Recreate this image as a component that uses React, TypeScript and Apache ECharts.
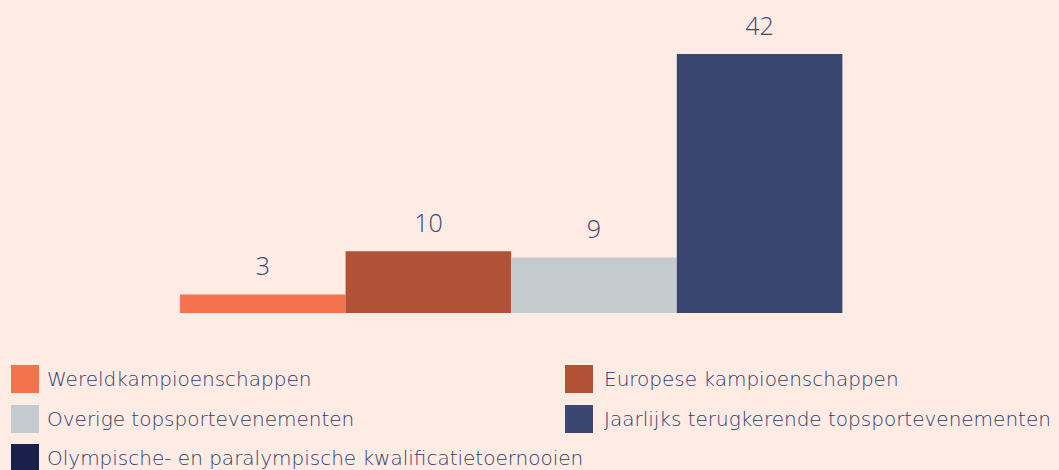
import React, { useEffect, useRef } from "react";
import * as echarts from "echarts";

const categories = ["Evenementen"];
const seriesNames = [
  "Wereldkampioenschappen",
  "Europese kampioenschappen",
  "Overige topsportevenementen",
  "Jaarlijks terugkerende topsportevenementen",
  "Olympische- en paralympische kwalificatietoernooien",
];
const seriesValues: (number | null)[] = [3, 10, 9, 42, null];
const seriesColors = ["#f3734f", "#b05236", "#c4cbce", "#39466e", "#1a1f4b"];
const legendLeftTop = [seriesNames[0], seriesNames[2]];
const legendLeftBottom = [seriesNames[4]];
const legendRight = [seriesNames[1], seriesNames[3]];

const FONT = "Open Sans";
const LEGEND_FONT = "DejaVu Sans";
const TEXT = "#3b4872";
const LEGEND_TEXT = "#2f3c68";

export default function App() {
  const ref = useRef<HTMLDivElement>(null);
  useEffect(() => {
    if (!ref.current) return;
    const chart = echarts.init(ref.current, undefined, { renderer: "svg" });
    const legendBase = {
      orient: "vertical" as const,
      padding: 0,
      itemWidth: 28,
      itemHeight: 28,
      itemGap: 12,
      icon: "rect",
      selectedMode: false,
      textStyle: { fontFamily: LEGEND_FONT, fontSize: 20, fontWeight: 300, color: LEGEND_TEXT, padding: [0, 0, 0, 3] },
    };
    chart.setOption({
      animation: false,
      backgroundColor: "#feebe4",
      grid: { left: 180, right: 51, top: 54, bottom: 157 },
      legend: [
        { ...legendBase, left: 11, top: 365, data: legendLeftTop },
        { ...legendBase, left: 11, top: 444, data: legendLeftBottom },
        {
          ...legendBase,
          left: 565,
          top: 365,
          data: legendRight,
          textStyle: { ...legendBase.textStyle, padding: [0, 0, 0, 6] },
        },
      ],
      xAxis: {
        type: "category",
        data: categories,
        show: false,
      },
      yAxis: { type: "value", min: 0, max: 42, show: false },
      series: seriesNames.map((name, i) => ({
        name,
        type: "bar",
        data: [seriesValues[i]],
        barGap: "0%",
        barCategoryGap: "0%",
        itemStyle: { color: seriesColors[i] },
        label: {
          show: true,
          position: "top",
          distance: 17,
          fontFamily: FONT,
          fontWeight: 300,
          fontSize: 25,
          color: TEXT,
        },
      })),
    });
    return () => chart.dispose();
  }, []);
  return <div ref={ref} style={{ width: 1059, height: 470, position: "absolute", left: 0, top: 0 }} />;
}
